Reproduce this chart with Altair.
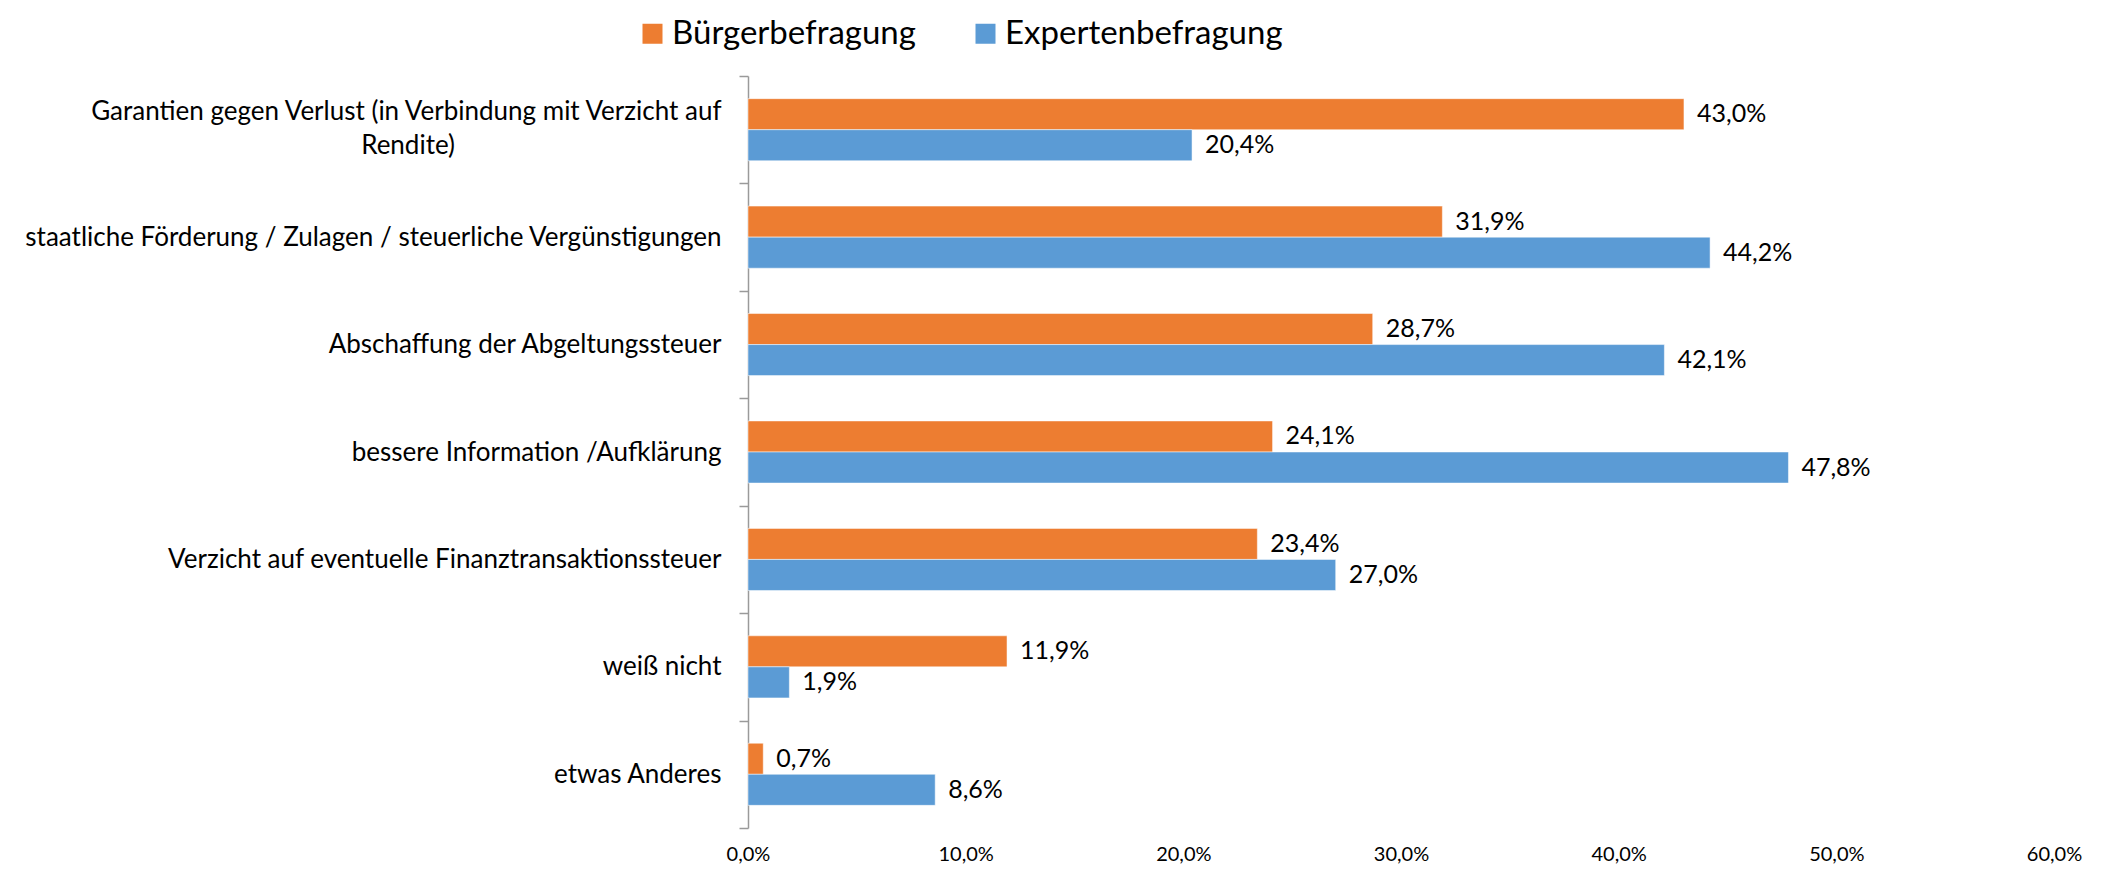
import altair as alt
import pandas as pd

categories = [
    "Garantien gegen Verlust (in Verbindung mit Verzicht auf Rendite)",
    "staatliche Förderung / Zulagen / steuerliche Vergünstigungen",
    "Abschaffung der Abgeltungssteuer",
    "bessere Information /Aufklärung",
    "Verzicht auf eventuelle Finanztransaktionssteuer",
    "weiß nicht",
    "etwas Anderes",
]
series = ["Bürgerbefragung", "Expertenbefragung"]
buerger = [43.0, 31.9, 28.7, 24.1, 23.4, 11.9, 0.7]
experten = [20.4, 44.2, 42.1, 47.8, 27.0, 1.9, 8.6]
x_ticks = [0, 10, 20, 30, 40, 50, 60]
colors = ["#ED7D31", "#5B9BD5"]

rows = []
for c, b, e in zip(categories, buerger, experten):
    rows.append({"cat": c, "serie": series[0], "val": b})
    rows.append({"cat": c, "serie": series[1], "val": e})
df = pd.DataFrame(rows)

FONT = "Lato"
line1 = "Garantien gegen Verlust (in Verbindung mit Verzicht auf"
line2 = "Rendite)" + "\u2003" * 13 + "\u2002" + "\u200d"
label_expr = (
    f"datum.value == '{categories[0]}' ? ['{line1}', '{line2}'] : datum.value"
)
first_test = f"datum.value == '{categories[0]}'"

y_enc = alt.Y(
    "cat:N",
    sort=categories,
    scale=alt.Scale(paddingInner=0, paddingOuter=0),
    axis=alt.Axis(
        title=None,
        tickBand="extent",
        domainColor="#9a9a9a",
        domainWidth=1.5,
        tickColor="#9a9a9a",
        tickWidth=1.5,
        tickSize=9,
        labelPadding=18,
        labelFont=FONT,
        labelFontSize=26,
        labelColor="#000000",
        labelLimit=800,
        labelLineHeight=34,
        labelOffset={"condition": {"test": first_test, "value": -18}, "value": 0},
        labelExpr=label_expr,
    ),
)
yoff = alt.YOffset(
    "serie:N", sort=series, scale=alt.Scale(paddingInner=0, paddingOuter=0.73)
)
x_enc = alt.X(
    "val:Q",
    scale=alt.Scale(domain=[0, 60], nice=False),
    axis=alt.Axis(
        title=None,
        values=x_ticks,
        domain=False,
        ticks=False,
        grid=False,
        labelFlush=False,
        labelFont=FONT,
        labelFontSize=20,
        labelColor="#000000",
        labelPadding=16,
        labelExpr="replace(format(datum.value, '.1f'), '.', ',') + '%'",
    ),
)

bars = alt.Chart(df).mark_bar(stroke="white", strokeWidth=0.5).encode(
    y=y_enc,
    yOffset=yoff,
    x=x_enc,
    color=alt.Color(
        "serie:N",
        sort=series,
        scale=alt.Scale(domain=series, range=colors),
        legend=alt.Legend(
            title=None,
            orient="none",
            direction="horizontal",
            legendX=-112,
            legendY=-59,
            symbolType="square",
            symbolSize=400,
            symbolStrokeWidth=0,
            labelFont=FONT,
            labelFontSize=33,
            labelColor="#000000",
            labelOffset=3,
            columnPadding=53,
            labelLimit=500,
        ),
    ),
)

labels = alt.Chart(df).transform_calculate(
    txt="replace(format(datum.val, '.1f'), '.', ',') + '%'"
).mark_text(
    align="left", baseline="middle", dx=13, font=FONT, fontSize=25, color="#000000"
).encode(
    y=alt.Y("cat:N", sort=categories),
    yOffset=alt.YOffset("serie:N", sort=series),
    x=alt.X("val:Q"),
    text="txt:N",
)

chart = (
    alt.layer(bars, labels)
    .properties(
        width=1306,
        height=752,
        autosize=alt.AutoSizeParams(type="none"),
        padding={"left": 740, "top": 68, "right": 45, "bottom": 37},
        background="white",
    )
    .configure_view(stroke="transparent", strokeWidth=0)
)

chart.save("out.html", embed_options={"renderer": "svg", "actions": False})
